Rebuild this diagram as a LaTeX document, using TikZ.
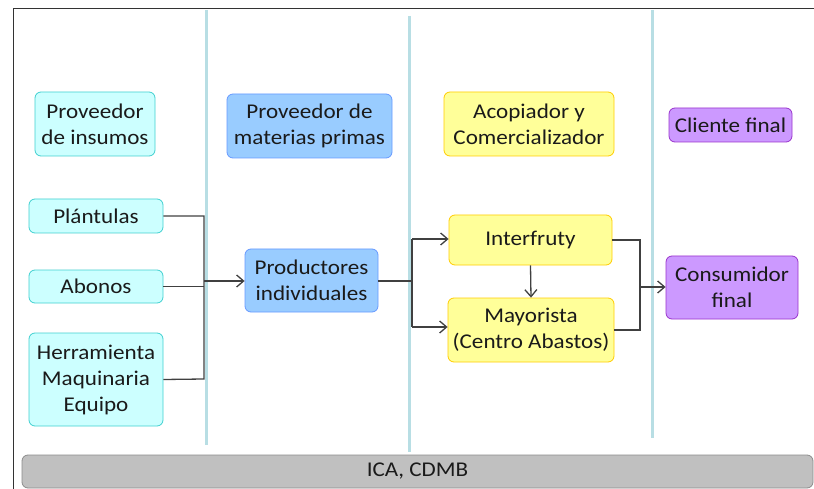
\documentclass[tikz,border=0pt]{standalone}
\usepackage{fontspec}
\setmainfont{Carlito}[FakeStretch=1.1]
\usetikzlibrary{arrows.meta}
\definecolor{cyanF}{HTML}{CCFFFF}
\definecolor{cyanD}{HTML}{40D0D0}
\definecolor{blueF}{HTML}{99CCFF}
\definecolor{blueD}{HTML}{6699FF}
\definecolor{yelF}{HTML}{FFFF99}
\definecolor{yelD}{HTML}{FFCC00}
\definecolor{purF}{HTML}{CC99FF}
\definecolor{purD}{HTML}{9933CC}
\definecolor{laneC}{HTML}{B8DEE4}
\definecolor{barF}{HTML}{C0C0C0}
\definecolor{lineC}{HTML}{404040}
\definecolor{txtC}{HTML}{1A1A1A}
\tikzset{
  box/.style={rounded corners=6pt, line width=0.8pt, align=center, inner sep=0pt,
    font=\fontsize{21}{26}\selectfont, text=txtC},
  cyanbox/.style={box, fill=cyanF, draw=cyanD},
  bluebox/.style={box, fill=blueF, draw=blueD},
  yelbox/.style={box, fill=yelF, draw=yelD},
  purbox/.style={box, fill=purF, draw=purD},
  lane/.style={laneC, line width=3pt},
  conn/.style={lineC, line width=1.3pt},
  arr/.style={conn, -{Straight Barb[length=7pt,width=12pt]}},
}
\begin{document}
\begin{tikzpicture}[x=1pt,y=-1pt]
\useasboundingbox (0,0) rectangle (814,489);
% frame
\draw[black!80, line width=1pt] (13,489) -- (13,9) -- (814,9);
% lanes
\draw[lane] (206,10) -- (206,445);
\draw[lane] (409,16) -- (409,452);
\draw[lane] (652,10) -- (652,438);
% bottom bar
\node[box, fill=barF, draw=black!45, minimum width=791pt, minimum height=33pt] (bar) at (417.5,471.5) {ICA, CDMB};
% column 1
\node[cyanbox, minimum width=120pt, minimum height=64pt] (pins) at (95,124) {Proveedor\\de insumos};
\node[cyanbox, minimum width=134pt, minimum height=34pt] (plant) at (96,216) {Plántulas};
\node[cyanbox, minimum width=134pt, minimum height=33pt] (abon) at (96,286.5) {Abonos};
\node[cyanbox, minimum width=134pt, minimum height=93pt] (herr) at (96,379.5) {Herramienta\\Maquinaria\\Equipo};
% column 2
\node[bluebox, minimum width=165pt, minimum height=64pt] (pmp) at (309.5,126) {Proveedor de\\materias primas};
\node[bluebox, minimum width=133pt, minimum height=63pt] (prod) at (311.5,280.5) {Productores\\individuales};
% column 3
\node[yelbox, minimum width=170pt, minimum height=64pt] (acop) at (529,124) {Acopiador y\\Comercializador};
\node[yelbox, minimum width=163pt, minimum height=50pt] (inter) at (530.5,240) {Interfruty};
\node[yelbox, minimum width=166pt, minimum height=64pt] (mayo) at (531,330) {Mayorista\\(Centro Abastos)};
% column 4
\node[purbox, minimum width=123pt, minimum height=34pt] (clie) at (730.5,125) {Cliente final};
\node[purbox, minimum width=132pt, minimum height=63pt] (cons) at (732,287.5) {Consumidor\\final};
% junction coordinates
\coordinate (j1t) at (204,216);
\coordinate (j1b) at (204,379);
\coordinate (j1m) at (204,281);
\coordinate (j2m) at (412,281);
\coordinate (j2t) at (412,239);
\coordinate (j2b) at (412,327);
\coordinate (j3t) at (640,240);
\coordinate (j3b) at (640,330);
\coordinate (j3m) at (640,287);
% connectors
\draw[conn] (plant.east) -- (j1t) -- (j1b) -- (herr.east);
\draw[conn] (abon.east) -- (abon.east -| j1m);
\draw[arr] (j1m) -- (prod.west |- j1m);
\draw[conn] (prod.east |- j2m) -- (j2m);
\draw[conn] (j2t) -- (j2b);
\draw[arr] (j2t) -- (inter.west |- j2t);
\draw[arr] (j2b) -- (mayo.west |- j2b);
\draw[arr] (inter.south) -- (mayo.north);
\draw[conn] (inter.east) -- (j3t) -- (j3b) -- (mayo.east);
\draw[arr] (j3m) -- (cons.west |- j3m);
\end{tikzpicture}
\end{document}
